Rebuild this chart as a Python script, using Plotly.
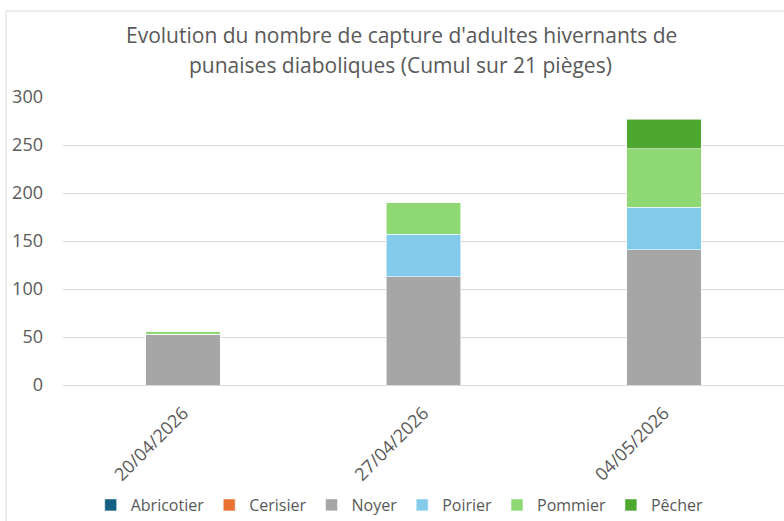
import plotly.graph_objects as go

dates = ["20/04/2026", "27/04/2026", "04/05/2026"]
series_names = ["Abricotier", "Cerisier", "Noyer", "Poirier", "Pommier", "Pêcher"]
abricotier = [0, 0, 0]
cerisier = [0, 0, 0]
noyer = [53, 113, 141]
poirier = [0, 44, 44]
pommier = [3, 33, 61]
pecher = [0, 0, 31]
colors = ["#156082", "#E97132", "#A6A6A6", "#83CBEB", "#8ED973", "#4EA72E"]
y_ticks = [0, 50, 100, 150, 200, 250, 300]
title_lines = ["Evolution du nombre de capture d'adultes hivernants de",
               "punaises diaboliques (Cumul sur 21 pièges)"]

values = [abricotier, cerisier, noyer, poirier, pommier, pecher]
FONT = "Open Sans"
GREY = "#595959"

fig = go.Figure()
for name, vals, col in zip(series_names, values, colors):
    fig.add_trace(go.Bar(
        x=dates, y=vals, name=name,
        marker=dict(color=col, line=dict(width=0.8, color="rgba(255,255,255,0.7)")),
    ))

fig.update_layout(
    barmode="stack",
    bargap=0.69,
    width=784, height=521,
    margin=dict(l=63, r=0, t=97, b=136, autoexpand=False),
    paper_bgcolor="white", plot_bgcolor="white",
    font=dict(family=FONT, color=GREY, size=16),
    showlegend=True,
    legend=dict(orientation="h", x=0.467, xanchor="center",
                yref="container", y=(521 - 505) / 521, yanchor="middle",
                font=dict(size=16, color=GREY), traceorder="normal",
                itemwidth=30, tracegroupgap=0),
    xaxis=dict(type="category", tickangle=-45, showgrid=False, showline=False,
               automargin=False,
               ticks="", tickfont=dict(size=18, color=GREY), ticklabelstandoff=13),
    yaxis=dict(range=[0, 300], tickvals=y_ticks, showgrid=True, gridcolor="#D9D9D9",
               automargin=False,
               gridwidth=1, zeroline=True, zerolinecolor="#D9D9D9", zerolinewidth=1,
               showline=False, ticks="", tickfont=dict(size=18, color=GREY),
               ticklabelstandoff=19),
    shapes=[dict(type="rect", xref="paper", yref="paper",
                 x0=(6 - 63) / 721, x1=(790 - 63) / 721,
                 y0=(385 - 530) / 288, y1=(385 - 11) / 288,
                 line=dict(color="#D9D9D9", width=1), fillcolor="rgba(0,0,0,0)", layer="below")],
    annotations=[
        dict(text=title_lines[0], xref="paper", yref="paper", x=(401 - 63) / 721,
             y=(385 - 35) / 288, xanchor="center", yanchor="middle", showarrow=False,
             font=dict(size=21, color=GREY, family=FONT)),
        dict(text=title_lines[1], xref="paper", yref="paper", x=(400 - 63) / 721,
             y=(385 - 65) / 288, xanchor="center", yanchor="middle", showarrow=False,
             font=dict(size=21, color=GREY, family=FONT)),
    ],
)

fig.write_html("out.html", config={"displayModeBar": False},
               post_script="document.body.style.margin='0';document.body.style.overflow='hidden';")
